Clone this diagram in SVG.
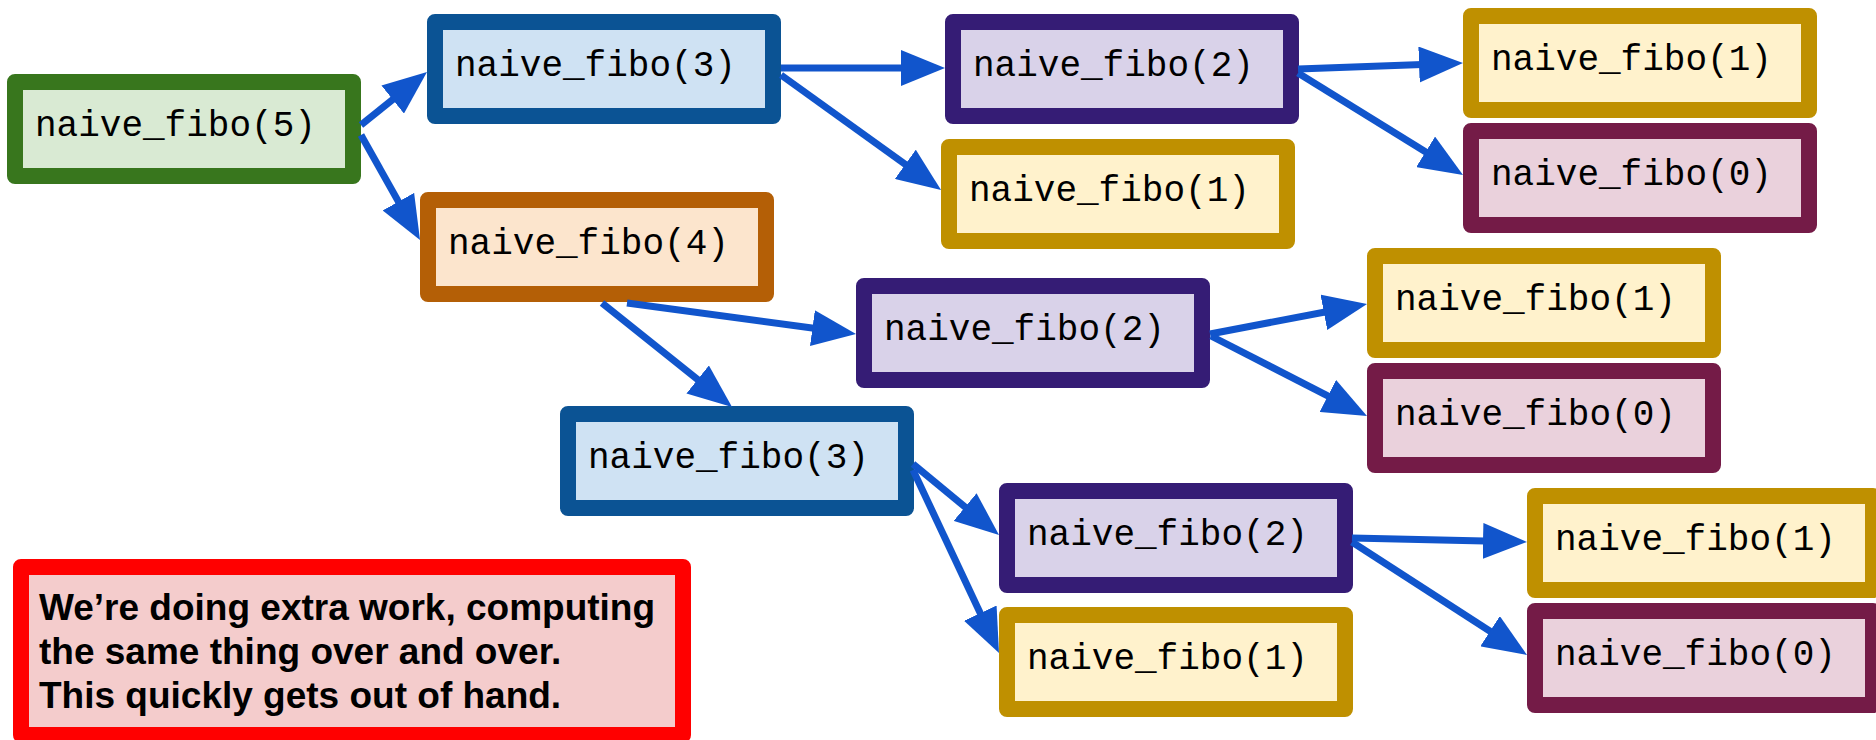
<svg xmlns="http://www.w3.org/2000/svg" width="1876" height="740" viewBox="0 0 1876 740">
<style>
  .box { stroke-width: 16; stroke-linejoin: round; }
  .lbl { font-family: "Liberation Mono", "Courier New", monospace; font-size: 36px; fill: #000000; }
  .g { fill: #d9ead3; stroke: #38761d; }
  .b { fill: #cfe2f3; stroke: #0b5394; }
  .o { fill: #fce5cd; stroke: #b45f06; }
  .p { fill: #d9d2e9; stroke: #351c75; }
  .y { fill: #fff2cc; stroke: #bf9000; }
  .m { fill: #ead1dc; stroke: #741b47; }
  .r { fill: #f4cccc; stroke: #ff0000; }
  .edge { stroke: #1155cc; stroke-width: 7; fill: none; marker-end: url(#arrow); }
  .note { font-family: "Liberation Sans", Arial, sans-serif; font-size: 37px; font-weight: bold; fill: #000000; }
</style>
<defs>
  <marker id="arrow" markerUnits="userSpaceOnUse" markerWidth="44" markerHeight="36" refX="24" refY="18" orient="auto">
    <path d="M0,0 L44,18 L0,36 z" fill="#1155cc"/>
  </marker>
</defs>
<rect x="0" y="0" width="1876" height="740" fill="#ffffff"/>

<g id="n_fibo5"><rect class="box g" x="15" y="82" width="338" height="94"/><text class="lbl" x="35" y="136">naive_fibo(5)</text></g>
<g id="n_fibo3a"><rect class="box b" x="435" y="22" width="338" height="94"/><text class="lbl" x="455" y="76">naive_fibo(3)</text></g>
<g id="n_fibo4"><rect class="box o" x="428" y="200" width="338" height="94"/><text class="lbl" x="448" y="254">naive_fibo(4)</text></g>
<g id="n_fibo2a"><rect class="box p" x="953" y="22" width="338" height="94"/><text class="lbl" x="973" y="76">naive_fibo(2)</text></g>
<g id="n_fibo1a"><rect class="box y" x="949" y="147" width="338" height="94"/><text class="lbl" x="969" y="201">naive_fibo(1)</text></g>
<g id="n_fibo1b"><rect class="box y" x="1471" y="16" width="338" height="94"/><text class="lbl" x="1491" y="70">naive_fibo(1)</text></g>
<g id="n_fibo0a"><rect class="box m" x="1471" y="131" width="338" height="94"/><text class="lbl" x="1491" y="185">naive_fibo(0)</text></g>
<g id="n_fibo2b"><rect class="box p" x="864" y="286" width="338" height="94"/><text class="lbl" x="884" y="340">naive_fibo(2)</text></g>
<g id="n_fibo1c"><rect class="box y" x="1375" y="256" width="338" height="94"/><text class="lbl" x="1395" y="310">naive_fibo(1)</text></g>
<g id="n_fibo0b"><rect class="box m" x="1375" y="371" width="338" height="94"/><text class="lbl" x="1395" y="425">naive_fibo(0)</text></g>
<g id="n_fibo3b"><rect class="box b" x="568" y="414" width="338" height="94"/><text class="lbl" x="588" y="468">naive_fibo(3)</text></g>
<g id="n_fibo2c"><rect class="box p" x="1007" y="491" width="338" height="94"/><text class="lbl" x="1027" y="545">naive_fibo(2)</text></g>
<g id="n_fibo1d"><rect class="box y" x="1007" y="615" width="338" height="94"/><text class="lbl" x="1027" y="669">naive_fibo(1)</text></g>
<g id="n_fibo1e"><rect class="box y" x="1535" y="496" width="338" height="94"/><text class="lbl" x="1555" y="550">naive_fibo(1)</text></g>
<g id="n_fibo0c"><rect class="box m" x="1535" y="611" width="338" height="94"/><text class="lbl" x="1555" y="665">naive_fibo(0)</text></g>

<g id="n_note">
  <rect class="box r" x="21" y="567" width="662" height="168"/>
  <text class="note" x="39" y="620">We’re doing extra work, computing</text>
  <text class="note" x="39" y="664">the same thing over and over.</text>
  <text class="note" x="39" y="708">This quickly gets out of hand.</text>
</g>

<g id="connectors">
  <line class="edge" x1="361" y1="125" x2="411.4" y2="84.5"/>
  <line class="edge" x1="361" y1="135" x2="410.2" y2="222.6"/>
  <line class="edge" x1="781" y1="68" x2="925" y2="68"/>
  <line class="edge" x1="781" y1="75" x2="924.8" y2="178.3"/>
  <line class="edge" x1="1298" y1="69" x2="1443" y2="63.7"/>
  <line class="edge" x1="1298" y1="73" x2="1446" y2="164.5"/>
  <line class="edge" x1="627" y1="303" x2="836.2" y2="331.3"/>
  <line class="edge" x1="602" y1="303" x2="716.4" y2="394.5"/>
  <line class="edge" x1="1210" y1="334" x2="1347.4" y2="307.8"/>
  <line class="edge" x1="1211" y1="336" x2="1349.2" y2="406.9"/>
  <line class="edge" x1="913" y1="464" x2="983.6" y2="522.3"/>
  <line class="edge" x1="913" y1="470" x2="990.5" y2="634.9"/>
  <line class="edge" x1="1352" y1="538" x2="1507" y2="541.5"/>
  <line class="edge" x1="1352" y1="542" x2="1510.2" y2="644.2"/>
</g>
</svg>
